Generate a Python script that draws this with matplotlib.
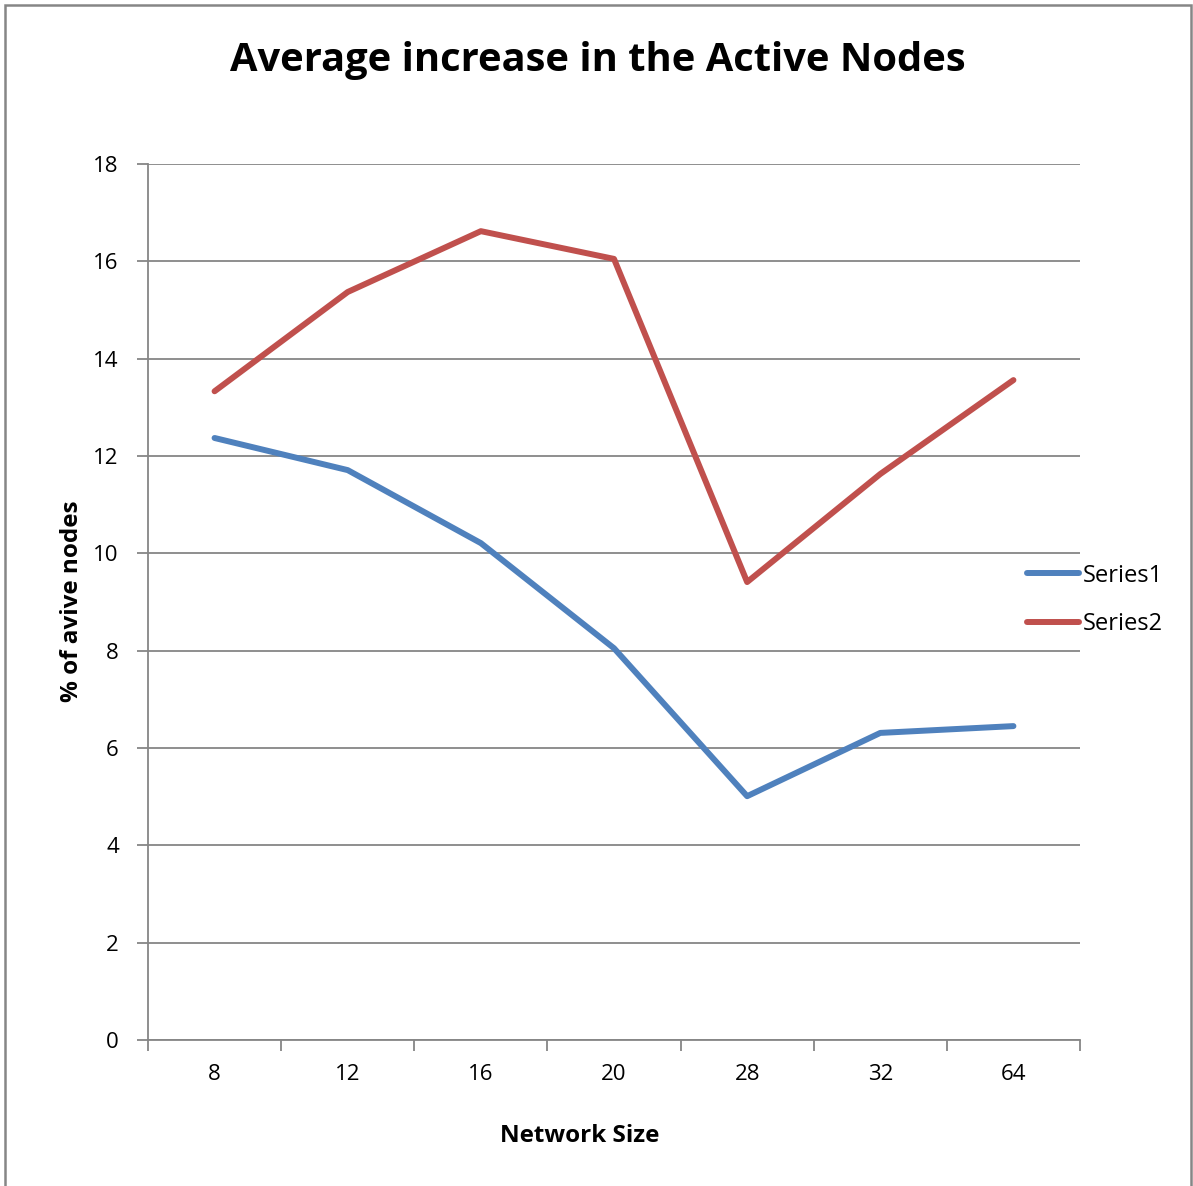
import matplotlib
matplotlib.use("Agg")
import matplotlib.pyplot as plt
from matplotlib.patches import Rectangle
from matplotlib.ticker import FixedLocator, NullFormatter

plt.rcParams['font.family'] = ['Open Sans', 'DejaVu Sans']

categories = ["8", "12", "16", "20", "28", "32", "64"]
series1 = [12.37, 11.71, 10.21, 8.05, 5.01, 6.31, 6.45]
series2 = [13.33, 15.37, 16.62, 16.05, 9.41, 11.63, 13.56]
yticks = [0, 2, 4, 6, 8, 10, 12, 14, 16, 18]

W, H = 1193, 1186
fig = plt.figure(figsize=(W / 100, H / 100), dpi=100)

# chart frame
fig.patches.append(Rectangle((5 / W, -0.02), (1191 - 5) / W, 1 - 5 / H + 0.02,
                             transform=fig.transFigure, fill=False,
                             edgecolor='#868686', linewidth=1.8))

ax = fig.add_axes([148 / W, (H - 1040) / H, (1080 - 148) / W, (1040 - 164) / H])

x = list(range(len(categories)))
blue = '#4F81BD'
red = '#C0504D'
ax.plot(x, series1, color=blue, linewidth=4.3, solid_capstyle='round',
        solid_joinstyle='round', label='Series1', zorder=3)
ax.plot(x, series2, color=red, linewidth=4.3, solid_capstyle='round',
        solid_joinstyle='round', label='Series2', zorder=3)

ax.set_xlim(-0.5, len(categories) - 0.5)
ax.set_ylim(0, 18)
ax.set_yticks(yticks)
ax.set_yticklabels([str(v) for v in yticks])
ax.yaxis.grid(True, color='#868686', linewidth=1.3)
ax.set_axisbelow(True)

# category ticks on boundaries, labels at centres
ax.xaxis.set_major_locator(FixedLocator([i - 0.5 for i in range(len(categories) + 1)]))
ax.xaxis.set_major_formatter(NullFormatter())
ax.xaxis.set_minor_locator(FixedLocator(x))
ax.set_xticklabels(categories, minor=True)
ax.tick_params(axis='x', which='major', length=8, width=1.3, color='#868686', direction='out')
ax.tick_params(axis='x', which='minor', length=0, pad=17, labelsize=16)
ax.tick_params(axis='y', length=8, width=1.3, color='#868686', direction='out', pad=13, labelsize=16)

for side in ('top', 'right'):
    ax.spines[side].set_visible(False)
for side in ('left', 'bottom'):
    ax.spines[side].set_color('#868686')
    ax.spines[side].set_linewidth(1.3)

fig.text(598 / W, 1 - 61 / H, 'Average increase in the Active Nodes',
         ha='center', va='center', fontsize=28.7, fontweight='bold')
fig.text(580 / W, 1 - 1136 / H, 'Network Size', ha='center', va='center',
         fontsize=17.5, fontweight='bold')
fig.text(72 / W, 1 - 601 / H, '% of avive nodes', ha='center', va='center',
         rotation=90, fontsize=17.5, fontweight='bold')

fig.legend(loc='center left', bbox_to_anchor=(1027 / W, 1 - 600 / H), frameon=False,
           fontsize=17, handlelength=2.2, handletextpad=0.15, labelspacing=1.05,
           borderaxespad=0, borderpad=0)

fig.savefig('out.png', dpi=100)
